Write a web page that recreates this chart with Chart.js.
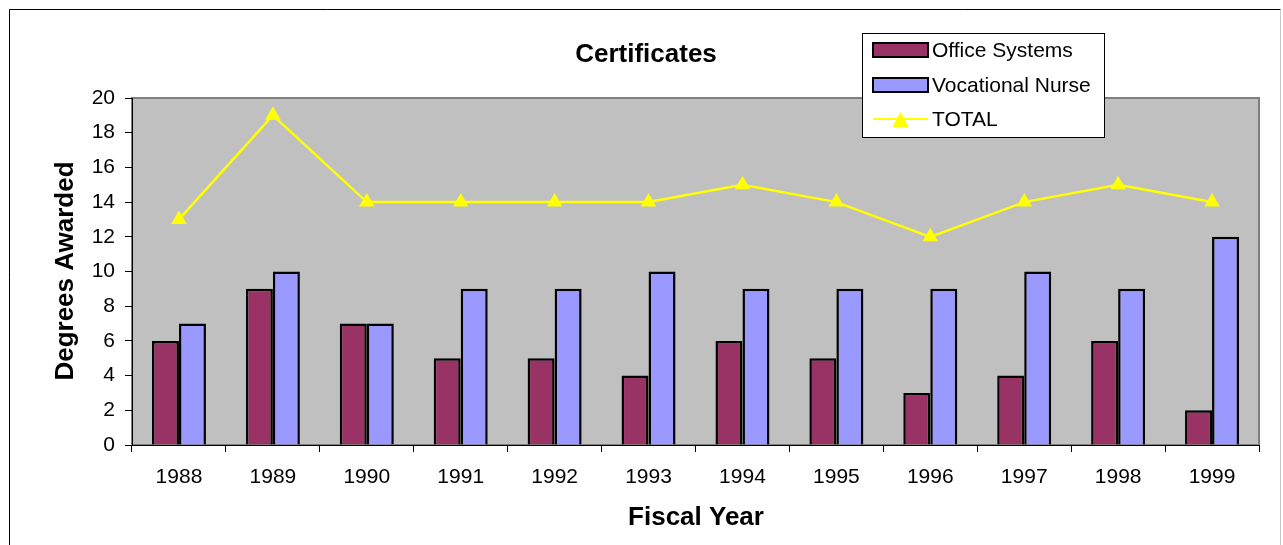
<!DOCTYPE html>
<html>
<head>
<meta charset="utf-8">
<script src="https://cdn.jsdelivr.net/npm/chart.js@4/dist/chart.umd.min.js"></script>
<style>
  body { margin: 0; background: #fff; }
  canvas { display: block; }
</style>
</head>
<body>
<canvas id="chart" width="1283" height="545"></canvas>
<script>
let years = ["1988", "1989", "1990", "1991", "1992", "1993", "1994", "1995", "1996", "1997", "1998", "1999"]
let officeSystems = [6, 9, 7, 5, 5, 4, 6, 5, 3, 4, 6, 2]
let vocationalNurse = [7, 10, 7, 9, 9, 10, 9, 9, 9, 10, 9, 12]
let total = [13, 19, 14, 14, 14, 14, 15, 14, 12, 14, 15, 14]

let font = "'Liberation Sans', Arial, sans-serif"

// gray plot area, outer frame, titles and legend
let decor = {
    id: "decor",
    beforeDraw(chart) {
        let ctx = chart.ctx
        let a = chart.chartArea
        ctx.save()
        ctx.fillStyle = "#fff"
        ctx.fillRect(0, 0, chart.width, chart.height)
        ctx.strokeStyle = "#000"
        ctx.lineWidth = 1
        ctx.beginPath()
        ctx.moveTo(9.5, 560)
        ctx.lineTo(9.5, 9.5)
        ctx.lineTo(1280.5, 9.5)
        ctx.stroke()
        ctx.strokeStyle = "#c8c8c8"
        ctx.beginPath()
        ctx.moveTo(1280.5, 9.5)
        ctx.lineTo(1280.5, 560)
        ctx.stroke()
        ctx.fillStyle = "#c0c0c0"
        ctx.fillRect(a.left, a.top, a.right - a.left, a.bottom - a.top)
        ctx.strokeStyle = "#808080"
        ctx.lineWidth = 2
        ctx.strokeRect(a.left, a.top, a.right - a.left, a.bottom - a.top)
        ctx.restore()
    },
    afterDraw(chart) {
        let ctx = chart.ctx
        ctx.save()
        ctx.fillStyle = "#000"
        ctx.textAlign = "center"
        ctx.textBaseline = "middle"
        ctx.font = "bold 26px " + font
        ctx.fillText("Certificates", 646, 55)
        ctx.fillText("Fiscal Year", 696, 518)
        ctx.translate(66, 271)
        ctx.rotate(-Math.PI / 2)
        ctx.fillText("Degrees Awarded", 0, 0)
        ctx.restore()

        // legend
        ctx.save()
        ctx.fillStyle = "#fff"
        ctx.fillRect(862, 33, 242, 104)
        ctx.strokeStyle = "#000"
        ctx.lineWidth = 1
        ctx.strokeRect(862.5, 33.5, 242, 104)
        let rows = [50, 85, 119]
        chart.data.datasets.forEach((ds, i) => {
            let y = rows[i]
            if (ds.type == "line") {
                ctx.strokeStyle = ds.borderColor
                ctx.lineWidth = 2
                ctx.beginPath()
                ctx.moveTo(873, y)
                ctx.lineTo(928, y)
                ctx.stroke()
                ctx.fillStyle = ds.pointBackgroundColor
                ctx.beginPath()
                ctx.moveTo(900.5, y - 7)
                ctx.lineTo(908.5, y + 8)
                ctx.lineTo(892.5, y + 8)
                ctx.closePath()
                ctx.fill()
            } else {
                ctx.fillStyle = ds.backgroundColor
                ctx.fillRect(873, y - 7, 55, 14)
                ctx.strokeStyle = "#000"
                ctx.lineWidth = 2
                ctx.strokeRect(873, y - 7, 55, 14)
            }
            ctx.fillStyle = "#000"
            ctx.textAlign = "left"
            ctx.textBaseline = "middle"
            ctx.font = "21px " + font
            ctx.fillText(ds.label, 932, y + 1)
        })
        ctx.restore()
    }
}

let config = {
    type: "bar",
    data: {
        labels: years,
        datasets: [
            {
                label: "Office Systems",
                data: officeSystems,
                backgroundColor: "#993366",
                borderColor: "#000",
                borderWidth: 2.5,
                order: 1
            },
            {
                label: "Vocational Nurse",
                data: vocationalNurse,
                backgroundColor: "#9999ff",
                borderColor: "#000",
                borderWidth: 2.5,
                order: 1
            },
            {
                type: "line",
                label: "TOTAL",
                data: total,
                borderColor: "#ffff00",
                borderWidth: 2.5,
                pointStyle: "triangle",
                pointRadius: 9,
                pointBackgroundColor: "#ffff00",
                pointBorderColor: "#ffff00",
                pointBorderWidth: 0,
                tension: 0,
                order: 0
            }
        ]
    },
    options: {
        responsive: false,
        animation: false,
        layout: {
            padding: { top: 98, right: 24, bottom: 0, left: 0 }
        },
        datasets: {
            bar: { categoryPercentage: 0.575, barPercentage: 1 }
        },
        plugins: {
            legend: { display: false },
            title: { display: false },
            tooltip: { enabled: false }
        },
        scales: {
            x: {
                grid: {
                    offset: true,
                    drawOnChartArea: false,
                    tickLength: 7,
                    color: "#000"
                },
                border: { color: "#000", width: 1 },
                ticks: {
                    color: "#000",
                    font: { family: font, size: 21 },
                    padding: 13,
                    maxRotation: 0
                },
                afterFit: s => { s.height = 100 }
            },
            y: {
                min: 0,
                max: 20,
                grid: {
                    drawOnChartArea: false,
                    tickLength: 7,
                    color: "#000"
                },
                border: { color: "#000", width: 1 },
                ticks: {
                    stepSize: 2,
                    color: "#000",
                    font: { family: font, size: 21 },
                    padding: 10
                },
                afterFit: s => { s.width = 132 }
            }
        }
    },
    plugins: [decor]
}

let chart = new Chart(document.getElementById("chart"), config)
</script>
</body>
</html>
